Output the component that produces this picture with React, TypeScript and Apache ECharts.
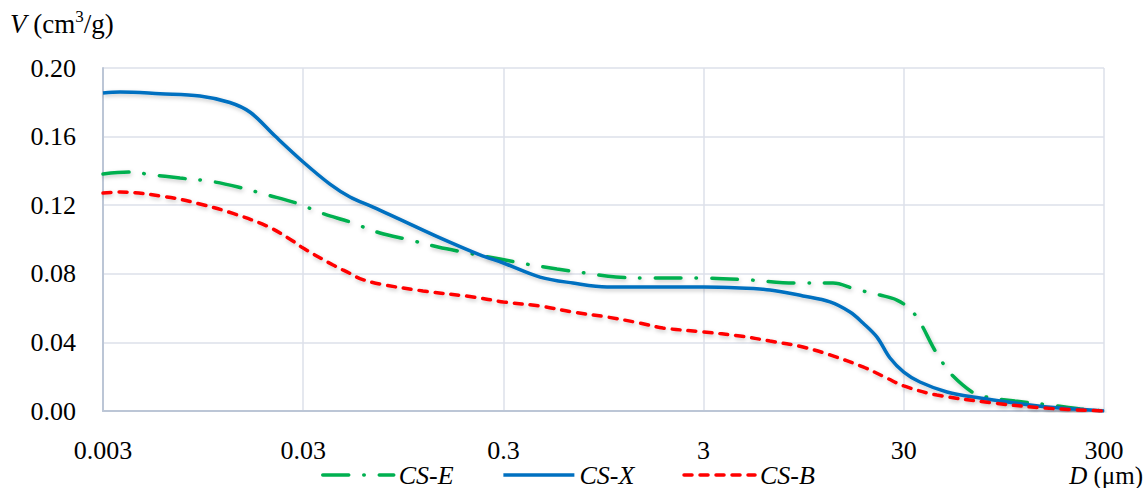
import React, { useEffect, useRef } from "react";
import * as echarts from "echarts";

const dMin = 0.003;
const xTickLabels = ["0.003", "0.03", "0.3", "3", "30", "300"];
const yTickValues = [0, 0.04, 0.08, 0.12, 0.16, 0.2];

const seriesNames = ["CS-E", "CS-X", "CS-B"];

// CS-E
const cseD = [0.003, 0.00409, 0.00515, 0.00727, 0.01015, 0.01417, 0.02, 0.0276, 0.0381, 0.0514, 0.0726, 0.1025, 0.1414, 0.1997, 0.2886, 0.389, 0.556, 0.767, 1.095, 1.62, 2.88, 5.12, 8.58, 13.29, 17.1, 22.8, 27.7, 32.2, 36.1, 42.0, 46.0, 51.0, 65.7, 77.2, 107.8, 161, 228, 300];
const cseV = [0.1382, 0.1393, 0.1379, 0.1358, 0.1341, 0.1306, 0.1259, 0.1213, 0.1149, 0.1102, 0.1038, 0.0997, 0.0956, 0.0921, 0.0886, 0.0857, 0.0828, 0.0805, 0.0781, 0.0775, 0.0775, 0.0764, 0.0746, 0.0746, 0.0711, 0.0676, 0.0647, 0.0595, 0.0519, 0.0373, 0.0297, 0.0222, 0.0111, 0.0082, 0.0058, 0.0035, 0.0012, 0];

// CS-X
const csxD = [0.003, 0.00365, 0.00578, 0.00915, 0.0129, 0.0163, 0.0217, 0.03, 0.0408, 0.0514, 0.067, 0.0912, 0.1447, 0.229, 0.3, 0.457, 0.668, 0.988, 1.44, 3, 4.56, 6.44, 9.41, 12.84, 16.16, 18.76, 22.04, 25.6, 30, 36.1, 49.3, 72.1, 128, 181, 300];
const csxV = [0.1854, 0.186, 0.185, 0.1837, 0.1799, 0.1742, 0.1603, 0.1452, 0.1323, 0.1248, 0.1189, 0.1117, 0.1009, 0.091, 0.0863, 0.0781, 0.0746, 0.0723, 0.0723, 0.0723, 0.0717, 0.0706, 0.0671, 0.0636, 0.0577, 0.0513, 0.0431, 0.0309, 0.0227, 0.0169, 0.0111, 0.0076, 0.0035, 0.0017, 0];

// CS-B
const csbD = [0.003, 0.00365, 0.00626, 0.00915, 0.01338, 0.0198, 0.0258, 0.03, 0.0423, 0.0514, 0.0576, 0.0726, 0.119, 0.2115, 0.3, 0.457, 0.668, 0.988, 1.44, 1.88, 3, 4.56, 6.44, 9.41, 12.84, 18.76, 24.7, 30, 43.9, 83.7, 152, 300];
const csbV = [0.1271, 0.1277, 0.1248, 0.1207, 0.1152, 0.1078, 0.1002, 0.095, 0.0851, 0.0802, 0.0772, 0.074, 0.07, 0.0665, 0.0636, 0.0612, 0.0577, 0.0548, 0.0513, 0.0484, 0.0461, 0.0437, 0.0408, 0.0373, 0.0327, 0.0257, 0.0192, 0.0146, 0.0093, 0.0047, 0.0017, 0];

const toPoints = (d: number[], v: number[]) => d.map((x, i) => [Math.log10(x / dMin), v[i]]);

const FONT = '"Liberation Serif"';

export default function App() {
  const ref = useRef<HTMLDivElement>(null);
  useEffect(() => {
    if (!ref.current) return;
    const chart = echarts.init(ref.current, null, { renderer: "svg" });
    const shadow = {
      shadowColor: "rgba(0,0,0,0.22)",
      shadowBlur: 4,
      shadowOffsetX: 1,
      shadowOffsetY: 2,
    };
    chart.setOption({
      animation: false,
      backgroundColor: "#ffffff",
      textStyle: { fontFamily: FONT },
      grid: { left: 103, right: 44, top: 68, bottom: 77, containLabel: false },
      xAxis: {
        type: "value",
        min: 0,
        max: xTickLabels.length - 1,
        interval: 1,
        axisLine: { show: true, lineStyle: { color: "#bcc6d6", width: 2 } },
        axisTick: { show: false },
        splitLine: { show: true, lineStyle: { color: "#dce1ea", width: 1.5 } },
        axisLabel: {
          margin: 28,
          color: "#000",
          fontFamily: FONT,
          fontSize: 26,
          lineHeight: 22,
          formatter: (v: number) => xTickLabels[Math.round(v)] ?? "",
        },
      },
      yAxis: {
        type: "value",
        min: yTickValues[0],
        max: yTickValues[yTickValues.length - 1],
        interval: 0.04,
        axisLine: { show: true, lineStyle: { color: "#bcc6d6", width: 2 } },
        axisTick: { show: false },
        splitLine: { show: true, lineStyle: { color: "#dce1ea", width: 1.5 } },
        axisLabel: {
          margin: 27,
          color: "#000",
          fontFamily: FONT,
          fontSize: 26,
          formatter: (v: number) => v.toFixed(2),
        },
      },
      legend: {
        left: 321,
        top: 462,
        padding: 0,
        itemWidth: 71,
        itemHeight: 14,
        itemGap: 48,
        itemStyle: { opacity: 0 },
        lineStyle: { width: 3.5 },
        textStyle: { fontFamily: FONT, fontSize: 26, fontStyle: "italic", color: "#000", lineHeight: 24 },
        data: seriesNames,
      },
      series: [
        {
          name: seriesNames[0],
          type: "line",
          data: toPoints(cseD, cseV),
          symbol: "none",
          smooth: 0.35,
          z: 3,
          lineStyle: { color: "#00b050", width: 3.5, type: [26, 15, 0.5, 15], cap: "round", ...shadow },
          itemStyle: { color: "#00b050" },
        },
        {
          name: seriesNames[1],
          type: "line",
          data: toPoints(csxD, csxV),
          symbol: "none",
          smooth: 0.35,
          z: 4,
          lineStyle: { color: "#0070c0", width: 3.5, type: "solid", ...shadow },
          itemStyle: { color: "#0070c0" },
        },
        {
          name: seriesNames[2],
          type: "line",
          data: toPoints(csbD, csbV),
          symbol: "none",
          smooth: 0.35,
          z: 5,
          lineStyle: { color: "#ff0000", width: 3.5, type: [8, 8], cap: "round", ...shadow },
          itemStyle: { color: "#ff0000" },
        },
      ],
      graphic: [
        {
          type: "text",
          left: 10,
          top: 8,
          style: {
            text: "{i|V}{n| (cm}{s|3}{n|/g)}",
            rich: {
              i: { fontFamily: FONT, fontSize: 27, fontStyle: "italic", fill: "#000", lineHeight: 32 },
              n: { fontFamily: FONT, fontSize: 27, fill: "#000", lineHeight: 32 },
              s: { fontFamily: FONT, fontSize: 17, fill: "#000", verticalAlign: "top", lineHeight: 22 },
            },
          },
        },
        {
          type: "text",
          right: 5,
          top: 463,
          style: {
            text: "{i|D}{n| (μm)}",
            rich: {
              i: { fontFamily: FONT, fontSize: 25, fontStyle: "italic", fill: "#000", lineHeight: 23 },
              n: { fontFamily: FONT, fontSize: 25, fill: "#000", lineHeight: 23 },
            },
          },
        },
      ],
    });
    return () => chart.dispose();
  }, []);
  return (
    <div
      ref={ref}
      style={{ position: "fixed", left: 0, top: 0, width: 1148, height: 488, background: "#fff" }}
    />
  );
}
